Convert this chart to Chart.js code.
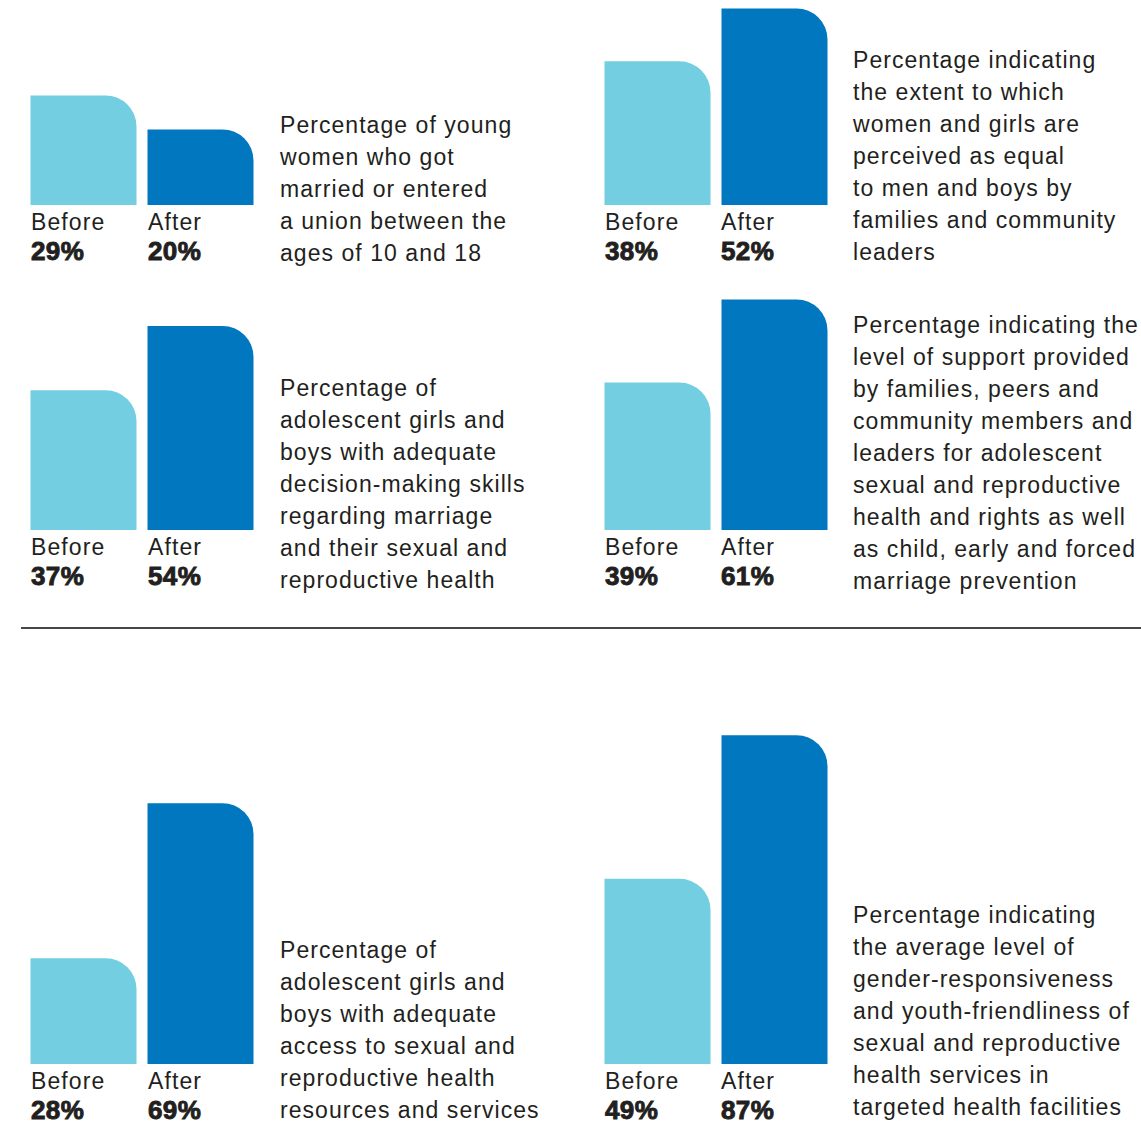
<!DOCTYPE html>
<html>
<head>
<meta charset="utf-8">
<script src="https://cdn.jsdelivr.net/npm/chart.js@4/dist/chart.umd.min.js"></script>
<style>
  html, body { margin: 0; padding: 0; background: #ffffff; }
  body { width: 1141px; height: 1122px; position: relative; overflow: hidden;
         font-family: "Liberation Sans", Arial, Helvetica, sans-serif; color: #231f20; }
  canvas { position: absolute; }
  .lbl { position: absolute; font-size: 23px; line-height: 23px; letter-spacing: 1.1px; white-space: nowrap; }
  .pct { position: absolute; font-size: 26px; line-height: 26px; font-weight: bold; white-space: nowrap;
         -webkit-text-stroke: 0.9px #231f20; letter-spacing: 0.4px; }
  .desc { position: absolute; font-size: 23px; line-height: 32px; letter-spacing: 1.05px; white-space: nowrap; }
  .rule { position: absolute; left: 21px; top: 627px; width: 1120px; height: 2px; background: #474747; }
</style>
</head>
<body>
<div class="rule"></div>
<script>
// ---- data ----
const categories = ['Before', 'After'];
const beforeValues = [29, 38, 37, 39, 28, 49];
const afterValues  = [20, 52, 54, 61, 69, 87];
const descriptions = [
  ['Percentage of young', 'women who got', 'married or entered', 'a union between the', 'ages of 10 and 18'],
  ['Percentage indicating', 'the extent to which', 'women and girls are', 'perceived as equal', 'to men and boys by', 'families and community', 'leaders'],
  ['Percentage of', 'adolescent girls and', 'boys with adequate', 'decision-making skills', 'regarding marriage', 'and their sexual and', 'reproductive health'],
  ['Percentage indicating the', 'level of support provided', 'by families, peers and', 'community members and', 'leaders for adolescent', 'sexual and reproductive', 'health and rights as well', 'as child, early and forced', 'marriage prevention'],
  ['Percentage of', 'adolescent girls and', 'boys with adequate', 'access to sexual and', 'reproductive health', 'resources and services'],
  ['Percentage indicating', 'the average level of', 'gender-responsiveness', 'and youth-friendliness of', 'sexual and reproductive', 'health services in', 'targeted health facilities']
];

// ---- layout / style ----
const PX_PER_PCT = 3.78;
const colBarLeft = [31, 605];
const colTextLeft = [280, 853];
const rowBase = [205, 530, 1064];
const rowMax = [54, 64, 90];
const descFirstBaseline = [133, 68, 396, 333, 958, 923];
const COLORS = ['#72cee0', '#0077bf'];
const BAR_W = 106, GAP = 11;

for (let i = 0; i < 6; i++) {
  const col = i % 2, row = Math.floor(i / 2);
  const base = rowBase[row];
  const yMax = rowMax[row];
  const h = Math.round(yMax * PX_PER_PCT);
  const w = 2 * (BAR_W + GAP);
  const cv = document.createElement('canvas');
  cv.width = w; cv.height = h;
  cv.style.left = (colBarLeft[col] - 6) + 'px';
  cv.style.top = (base - h) + 'px';
  cv.style.width = w + 'px'; cv.style.height = h + 'px';
  document.body.appendChild(cv);

  new Chart(cv, {
    type: 'bar',
    data: {
      labels: categories,
      datasets: [{
        data: [beforeValues[i], afterValues[i]],
        backgroundColor: COLORS,
        borderWidth: 0,
        borderRadius: { topLeft: 0, topRight: 31, bottomLeft: 0, bottomRight: 0 },
        borderSkipped: false,
        barThickness: BAR_W,
        inflateAmount: 0
      }]
    },
    options: {
      responsive: false,
      animation: false,
      devicePixelRatio: 1,
      layout: { padding: 0 },
      plugins: { legend: { display: false }, tooltip: { enabled: false } },
      scales: {
        x: { display: false, offset: true },
        y: { display: false, min: 0, max: h / PX_PER_PCT }
      }
    }
  });

  // labels under bars
  const vals = [beforeValues[i], afterValues[i]];
  for (let k = 0; k < 2; k++) {
    const x = colBarLeft[col] + k * (BAR_W + GAP) + (col === 1 && k === 1 ? -1 : 0);
    const l = document.createElement('div');
    l.className = 'lbl';
    l.textContent = categories[k];
    l.style.left = x + 'px';
    l.style.top = (base + 25.5 - 19.5) + 'px';
    document.body.appendChild(l);
    const p = document.createElement('div');
    p.className = 'pct';
    p.textContent = vals[k] + '%';
    p.style.left = x + 'px';
    p.style.top = (base + 55 - 22) + 'px';
    document.body.appendChild(p);
  }

  const d = document.createElement('div');
  d.className = 'desc';
  d.innerHTML = descriptions[i].join('<br>');
  d.style.left = colTextLeft[col] + 'px';
  d.style.top = (descFirstBaseline[i] - 23.6) + 'px';
  document.body.appendChild(d);
}
</script>
</body>
</html>
